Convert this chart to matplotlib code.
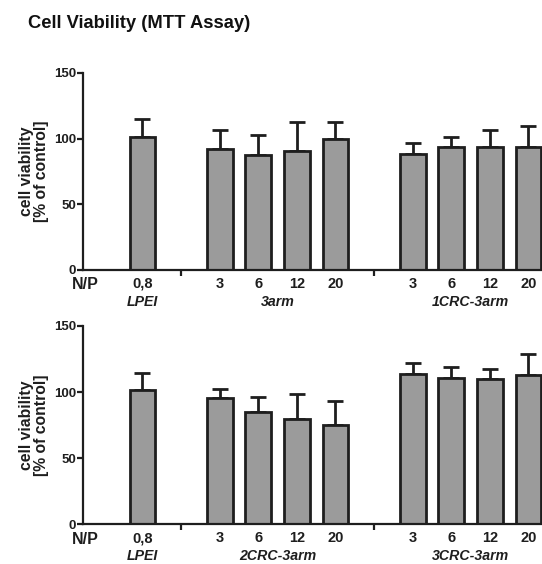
import matplotlib
matplotlib.use("Agg")
import matplotlib.pyplot as plt
import numpy as np

plt.rcParams['font.family'] = ['Liberation Sans', 'DejaVu Sans']

# Data
np_labels = ["0,8", "3", "6", "12", "20", "3", "6", "12", "20"]
positions = [0, 2, 3, 4, 5, 7, 8, 9, 10]
top_groups = ["LPEI", "3arm", "1CRC-3arm"]
bottom_groups = ["LPEI", "2CRC-3arm", "3CRC-3arm"]
group_centers = [0, 3.5, 8.5]

top_means = [101.5, 92.5, 87.5, 90.5, 99.5, 88.5, 93.5, 93.5, 93.5]
top_err = [13.3, 14.0, 15.3, 22.5, 13.0, 8.2, 8.0, 12.9, 15.9]

bottom_means = [101.4, 95.8, 84.7, 79.4, 74.9, 113.7, 110.9, 109.9, 112.9]
bottom_err = [12.8, 6.8, 11.6, 19.2, 18.4, 8.1, 8.1, 7.8, 16.1]

fig = plt.figure(figsize=(5.42, 5.64), dpi=100)

W, H = 542, 564
fig.text(28 / W, 1 - 24 / H, "Cell Viability (MTT Assay)", fontsize=13.2,
         fontweight='bold', ha='left', va='center', color='#111111')

ax_left = 83 / W
ax_w = 1 - ax_left
axes_specs = [
    ((H - 270) / H, (270 - 73) / H, top_means, top_err, top_groups),
    ((H - 524.3) / H, (524.3 - 326) / H, bottom_means, bottom_err, bottom_groups),
]

for bottom, height, means, errs, groups in axes_specs:
    ax = fig.add_axes([ax_left, bottom, ax_w, height])
    ax.bar(positions, means, width=0.67, color='#9b9b9b', edgecolor='#1e1e1e',
           linewidth=2.0, zorder=2)
    ax.errorbar(positions, means, yerr=[np.zeros(len(errs)), errs], fmt='none',
                ecolor='#1e1e1e', elinewidth=2.0, capsize=5.5, capthick=2.0, zorder=1)
    ax.set_xlim(-1.54, 10.35)
    ax.set_ylim(0, 150)
    for s in ['top', 'right']:
        ax.spines[s].set_visible(False)
    for s in ['left', 'bottom']:
        ax.spines[s].set_linewidth(1.6)
        ax.spines[s].set_color('#1e1e1e')
    ax.set_yticks([0, 50, 100, 150])
    ax.set_yticklabels(["0", "50", "100", "150"], fontsize=9.5, fontweight='bold')
    ax.tick_params(axis='y', direction='out', length=4, width=1.6, pad=1, colors='#1e1e1e')
    ax.set_xticks(positions)
    ax.set_xticklabels(np_labels, fontsize=10.5, fontweight='bold')
    ax.tick_params(axis='x', which='major', length=0, pad=5, colors='#1e1e1e')
    ax.set_xticks([1, 6], minor=True)
    ax.tick_params(axis='x', which='minor', direction='out', length=4, width=1.6, colors='#1e1e1e')
    ax.text(-1.48, -5.5, "N/P", fontsize=11.5, fontweight='bold',
            ha='center', va='top', color='#1e1e1e')
    for gc, g in zip(group_centers, groups):
        ax.text(gc, -24.0, g, fontsize=10.2, fontweight='bold', style='italic',
                ha='center', va='center', color='#1e1e1e')
    yc = bottom + height / 2
    fig.text(34 / W, yc, "cell viability\n[% of control]", fontsize=11.3,
             fontweight='bold', rotation=90, ha='center', va='center',
             multialignment='center', linespacing=1.0, color='#1e1e1e')
    ax.patch.set_alpha(0)

fig.savefig("out.png", dpi=100, facecolor='white')
